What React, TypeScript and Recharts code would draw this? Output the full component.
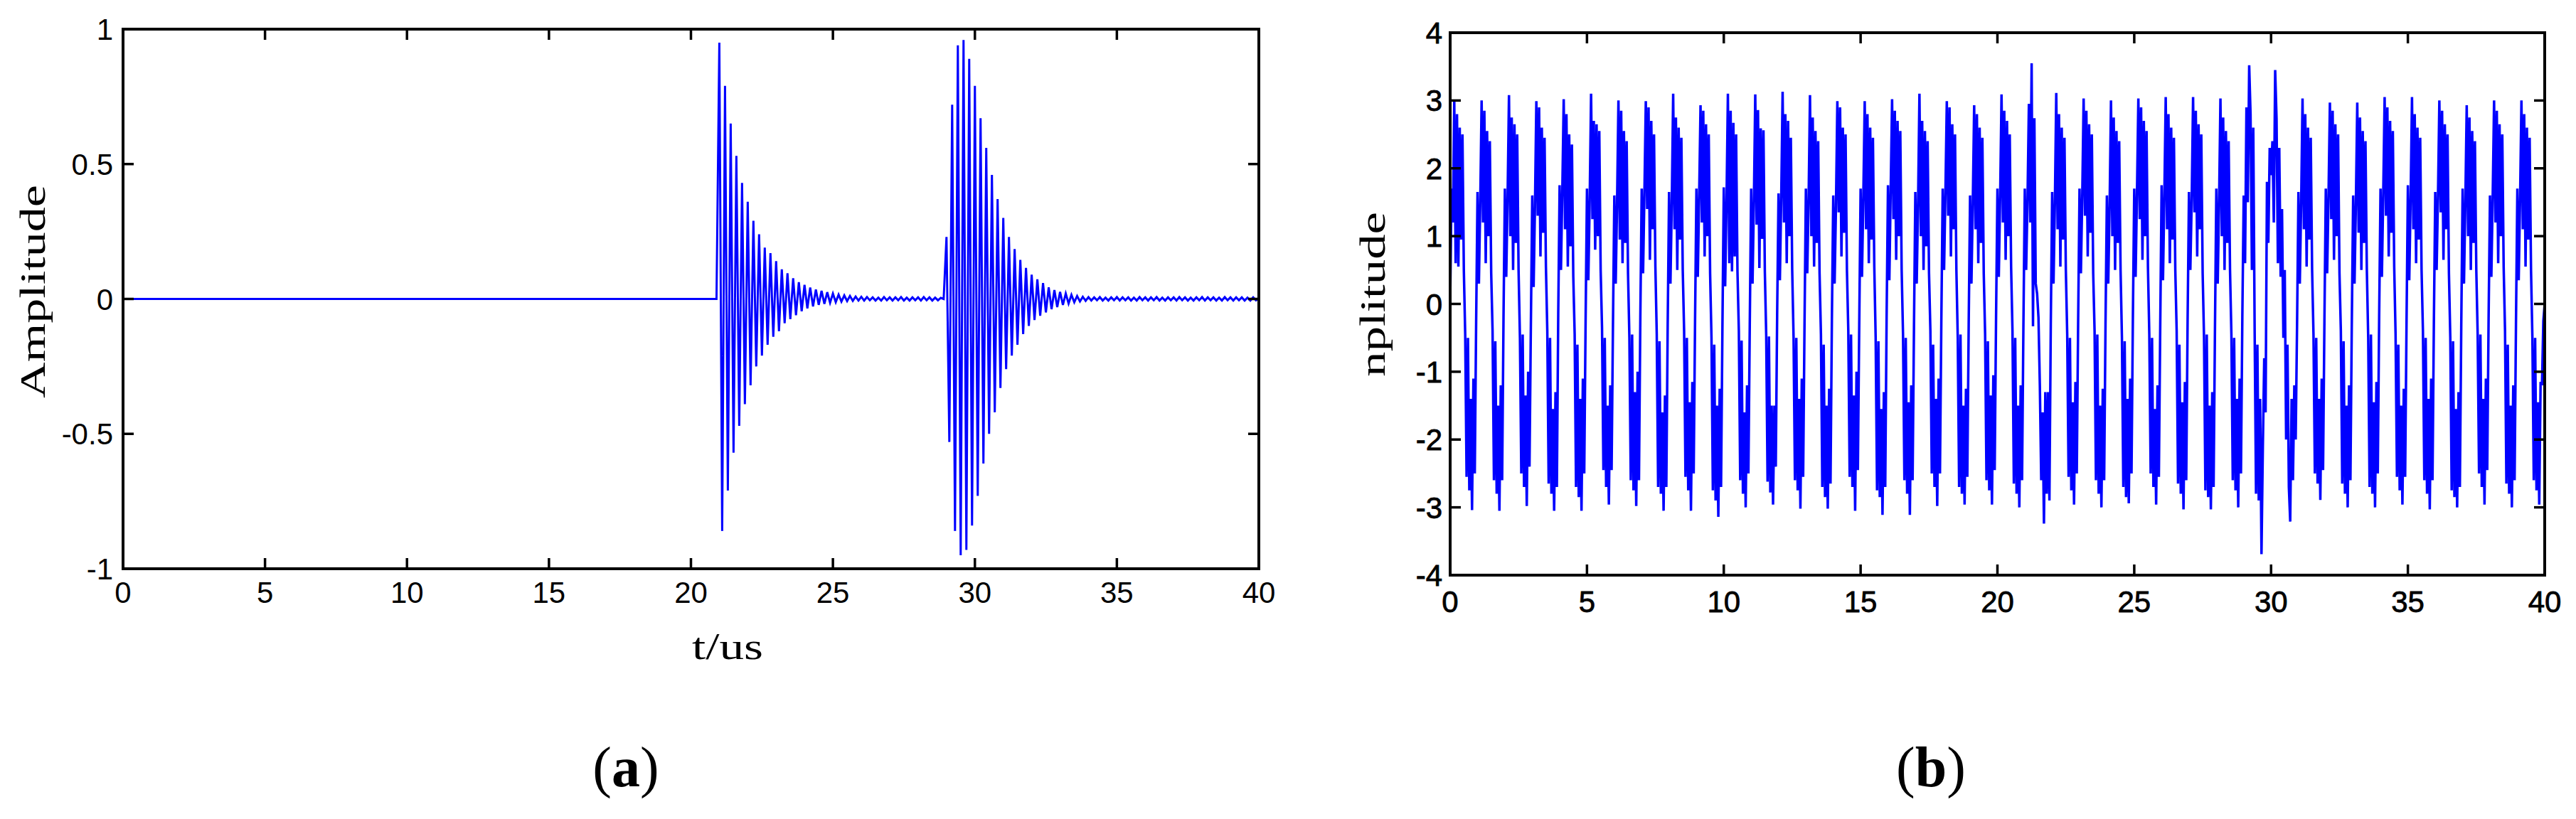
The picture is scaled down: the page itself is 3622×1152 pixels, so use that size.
import React from 'react';
import { LineChart, Line, XAxis, YAxis } from 'recharts';

// shared axes
const timeTicks = [0, 5, 10, 15, 20, 25, 30, 35, 40];
const ampTicksA = [-1, -0.5, 0, 0.5, 1];
const ampTicksB = [-4, -3, -2, -1, 0, 1, 2, 3, 4];
const stepA = 0.1; // us between samples, panel (a)
const stepB = 0.05; // us between samples, panel (b)

// (a) received signal: silence, first echo, ripple, second echo, ripple
const quietA = [
  { t: 0, v: 0 },
  { t: 20.9, v: 0 },
];

const echo1Start = 21.0;
const echo1 = [
  0.95, -0.86, 0.79, -0.71, 0.65, -0.57, 0.53, -0.47, 0.43, -0.39,
  0.36, -0.32, 0.29, -0.25, 0.24, -0.21, 0.19, -0.17, 0.17, -0.14,
  0.14, -0.12, 0.11, -0.09, 0.095, -0.075, 0.077, -0.06, 0.062, -0.046,
  0.052, -0.035, 0.042, -0.028, 0.035, -0.022, 0.03, -0.018, 0.025, -0.014,
  0.02, -0.012, 0.016, -0.01, 0.013, -0.008, 0.011, -0.007, 0.009, -0.006,
  0.008,
];

const ripple1Start = 26.1;
const ripple1 = [
  -0.006, 0.007, -0.005, 0.006, -0.006, 0.005, -0.006, 0.007, -0.005, 0.006,
  -0.006, 0.006, -0.005, 0.007, -0.006, 0.005, -0.006, 0.006, -0.005, 0.006,
  -0.006, 0.007, -0.005, 0.006, -0.006, 0.005, -0.005, 0.004,
];

const echo2Start = 28.9;
const echo2 = [
  0.0, 0.23, -0.53, 0.72, -0.86, 0.94, -0.95, 0.96, -0.93, 0.89,
  -0.84, 0.79, -0.73, 0.67, -0.61, 0.56, -0.5, 0.46, -0.42, 0.37,
  -0.33, 0.3, -0.26, 0.23, -0.21, 0.185, -0.17, 0.145, -0.13, 0.115,
  -0.1, 0.09, -0.078, 0.073, -0.062, 0.059, -0.05, 0.043, -0.038, 0.033,
  -0.03, 0.026, -0.022, 0.02, -0.017, 0.015, -0.012, 0.011, -0.009, 0.008,
  -0.007, 0.007,
];

const ripple2Start = 34.1;
const ripple2 = [
  -0.006, 0.006, -0.005, 0.007, -0.006, 0.005, -0.006, 0.006, -0.005, 0.007,
  -0.006, 0.006, -0.005, 0.006, -0.006, 0.005, -0.006, 0.007, -0.005, 0.006,
  -0.006, 0.006, -0.005, 0.007, -0.006, 0.005, -0.006, 0.006, -0.005, 0.006,
  -0.006, 0.007, -0.005, 0.006, -0.006, 0.005, -0.006, 0.006, -0.005, 0.007,
  -0.006, 0.006, -0.005, 0.006, -0.006, 0.005, -0.006, 0.007, -0.005, 0.006,
  -0.006, 0.006, -0.005, 0.006, -0.006, 0.005, -0.006, 0.006, -0.005, 0.004,
];

// (b) one row per 1 us cycle, 20 samples each
const cyclesB = [
  [0.0, 1.7, 1.2, 3.0, 0.6, 2.8, 0.55, 2.6, 0.95, 2.5, 0.5, -0.45, -2.55, -0.5, -2.75, -1.4, -3.04, -1.1, -2.5, -0.25],
  [1.65, 0.3, 1.5, 3.0, 1.2, 2.85, 0.6, 2.55, 1.0, 2.4, 0.45, -0.4, -2.6, -0.55, -2.8, -1.5, -3.05, -1.2, -2.6, -0.2],
  [1.7, 0.4, 1.6, 3.08, 1.0, 2.75, 0.5, 2.65, 0.9, 2.5, 0.5, -0.5, -2.5, -0.45, -2.7, -1.35, -2.98, -1.0, -2.4, -0.3],
  [1.6, 0.25, 1.45, 2.99, 1.3, 2.9, 0.7, 2.6, 1.05, 2.45, 0.55, -0.4, -2.65, -0.5, -2.8, -1.55, -3.05, -1.3, -2.7, -0.15],
  [1.75, 0.5, 1.7, 3.02, 1.1, 2.8, 0.55, 2.5, 0.85, 2.35, 0.4, -0.45, -2.7, -0.6, -2.85, -1.4, -3.05, -1.1, -2.5, -0.25],
  [1.7, 0.35, 1.55, 3.1, 1.25, 2.7, 0.8, 2.65, 1.0, 2.55, 0.5, -0.35, -2.45, -0.5, -2.7, -1.5, -2.96, -1.2, -2.45, -0.3],
  [1.6, 0.3, 1.5, 3.0, 0.95, 2.85, 0.6, 2.55, 0.9, 2.4, 0.45, -0.5, -2.6, -0.45, -2.75, -1.3, -2.98, -1.0, -2.6, -0.2],
  [1.7, 0.45, 1.65, 2.99, 1.4, 2.9, 0.65, 2.7, 1.1, 2.5, 0.55, -0.45, -2.7, -0.55, -2.8, -1.6, -3.05, -1.35, -2.7, -0.3],
  [1.65, 0.3, 1.5, 3.1, 1.1, 2.75, 0.5, 2.6, 0.95, 2.45, 0.5, -0.4, -2.55, -0.5, -2.75, -1.45, -3.05, -1.15, -2.5, -0.25],
  [1.7, 0.4, 1.6, 2.93, 1.2, 2.85, 0.7, 2.65, 1.0, 2.5, 0.45, -0.5, -2.75, -0.6, -2.9, -1.5, -3.14, -1.25, -2.7, -0.35],
  [1.72, 0.26, 1.52, 3.1, 0.6, 2.85, 0.48, 2.67, 0.7, 2.5, 0.48, -0.4, -2.6, -0.54, -2.8, -1.6, -3.0, -1.2, -2.5, -0.27],
  [1.7, 0.3, 1.52, 3.09, 1.17, 2.86, 0.53, 2.59, 0.96, 2.56, 0.48, -0.46, -2.62, -0.48, -2.78, -1.5, -2.96, -1.5, -2.4, -0.16],
  [1.63, 0.35, 1.6, 3.13, 1.2, 2.8, 0.6, 2.7, 1.0, 2.45, 0.5, -0.5, -2.6, -0.5, -2.75, -1.4, -3.02, -1.1, -2.55, -0.3],
  [1.7, 0.45, 1.55, 3.08, 1.0, 2.75, 0.55, 2.55, 0.9, 2.4, 0.45, -0.45, -2.7, -0.6, -2.85, -1.5, -3.02, -1.25, -2.65, -0.25],
  [1.6, 0.3, 1.45, 2.99, 1.35, 2.9, 0.7, 2.6, 1.05, 2.5, 0.5, -0.4, -2.55, -0.45, -2.7, -1.35, -3.05, -1.0, -2.45, -0.3],
  [1.7, 0.4, 1.6, 2.99, 1.1, 2.8, 0.6, 2.6, 0.95, 2.45, 0.55, -0.5, -2.75, -0.55, -2.85, -1.55, -3.11, -1.3, -2.7, -0.2],
  [1.75, 0.35, 1.7, 3.02, 1.25, 2.85, 0.65, 2.7, 1.0, 2.55, 0.5, -0.45, -2.6, -0.5, -2.8, -1.45, -3.11, -1.2, -2.6, -0.35],
  [1.65, 0.3, 1.5, 3.1, 1.0, 2.7, 0.5, 2.55, 0.85, 2.4, 0.45, -0.4, -2.5, -0.6, -2.7, -1.4, -2.98, -1.1, -2.5, -0.25],
  [1.7, 0.5, 1.65, 2.99, 1.3, 2.9, 0.7, 2.65, 1.1, 2.5, 0.5, -0.5, -2.7, -0.45, -2.8, -1.5, -2.96, -1.25, -2.55, -0.3],
  [1.6, 0.3, 1.5, 2.93, 1.1, 2.8, 0.6, 2.6, 0.9, 2.45, 0.45, -0.45, -2.6, -0.55, -2.75, -1.35, -2.96, -1.05, -2.45, -0.2],
  [1.7, 0.4, 1.6, 3.09, 1.2, 2.85, 0.65, 2.7, 1.0, 2.5, 0.55, -0.4, -2.65, -0.5, -2.8, -1.5, -3.0, -1.2, -2.6, -0.3],
  [1.7, 0.5, 1.55, 2.95, 1.2, 3.55, -0.33, 2.74, 0.3, 0.15, -0.2, -1.2, -2.6, -1.6, -3.24, -1.3, -2.8, -1.3, -2.9, -0.3],
  [1.65, 0.3, 1.5, 3.11, 1.1, 2.8, 0.55, 2.6, 0.95, 2.45, 0.5, -0.45, -2.55, -0.5, -2.75, -1.45, -2.96, -1.15, -2.5, -0.25],
  [1.7, 0.45, 1.6, 3.03, 1.3, 2.85, 0.7, 2.65, 1.05, 2.5, 0.45, -0.4, -2.6, -0.45, -2.8, -1.5, -3.0, -1.25, -2.6, -0.3],
  [1.6, 0.3, 1.45, 3.0, 1.0, 2.75, 0.5, 2.55, 0.9, 2.4, 0.5, -0.5, -2.7, -0.55, -2.85, -1.4, -2.94, -1.1, -2.5, -0.2],
  [1.7, 0.4, 1.65, 3.03, 1.25, 2.9, 0.65, 2.7, 1.0, 2.55, 0.55, -0.45, -2.5, -0.5, -2.7, -1.55, -2.96, -1.2, -2.55, -0.3],
  [1.75, 0.35, 1.6, 3.05, 1.1, 2.8, 0.6, 2.6, 0.95, 2.45, 0.5, -0.4, -2.65, -0.6, -2.8, -1.45, -3.03, -1.15, -2.6, -0.25],
  [1.65, 0.5, 1.55, 3.05, 1.35, 2.85, 0.7, 2.65, 1.1, 2.5, 0.45, -0.5, -2.75, -0.45, -2.85, -1.5, -3.03, -1.3, -2.7, -0.35],
  [1.7, 0.3, 1.5, 3.03, 1.0, 2.75, 0.5, 2.55, 0.9, 2.4, 0.5, -0.45, -2.6, -0.5, -2.75, -1.4, -3.0, -1.1, -2.5, -0.2],
  [1.6, 0.6, 2.9, 1.5, 3.52, 2.8, 0.5, 2.6, -0.4, -2.8, -0.6, -2.9, -1.4, -3.69, -2.1, -0.8, -1.6, 1.8, 0.9, 2.3],
  [1.9, 2.4, 1.2, 3.45, 2.73, 0.6, 2.3, 0.4, 1.4, -0.5, 0.5, -2.0, -0.6, -2.7, -3.21, -1.4, -2.6, -1.2, -2.0, -0.3],
  [1.65, 0.3, 1.5, 3.03, 1.1, 2.8, 0.55, 2.6, 0.95, 2.45, 0.5, -0.45, -2.5, -0.5, -2.65, -1.4, -2.89, -1.1, -2.45, -0.25],
  [1.7, 0.45, 1.6, 2.97, 1.25, 2.85, 0.65, 2.65, 1.0, 2.5, 0.45, -0.4, -2.65, -0.55, -2.8, -1.5, -3.0, -1.2, -2.6, -0.3],
  [1.6, 0.3, 1.5, 2.97, 1.05, 2.75, 0.5, 2.55, 0.9, 2.4, 0.5, -0.5, -2.7, -0.45, -2.8, -1.45, -3.0, -1.15, -2.5, -0.2],
  [1.7, 0.4, 1.65, 3.05, 1.3, 2.9, 0.7, 2.7, 1.05, 2.55, 0.55, -0.45, -2.55, -0.6, -2.75, -1.5, -2.96, -1.25, -2.55, -0.3],
  [1.75, 0.35, 1.55, 3.05, 1.1, 2.8, 0.6, 2.6, 0.95, 2.45, 0.5, -0.4, -2.6, -0.5, -2.8, -1.4, -3.03, -1.1, -2.6, -0.25],
  [1.65, 0.5, 1.6, 3.0, 1.35, 2.85, 0.65, 2.65, 1.1, 2.5, 0.45, -0.5, -2.75, -0.55, -2.85, -1.55, -3.0, -1.3, -2.7, -0.35],
  [1.7, 0.3, 1.5, 2.93, 1.0, 2.75, 0.5, 2.55, 0.9, 2.4, 0.5, -0.45, -2.5, -0.45, -2.7, -1.4, -2.96, -1.1, -2.45, -0.2],
  [1.6, 0.4, 1.6, 3.0, 1.2, 2.85, 0.6, 2.65, 1.0, 2.5, 0.55, -0.4, -2.65, -0.6, -2.8, -1.5, -3.0, -1.2, -2.6, -0.3],
  [1.7, 0.35, 1.55, 3.0, 1.1, 2.8, 0.55, 2.6, 0.95, 2.45, 0.5, -0.5, -2.6, -0.5, -2.75, -1.45, -2.96, -1.15, -1.2, -0.25],
];
const endB = { t: 40, v: 0 };

const segment = (start: number, step: number, values: number[]) =>
  values.map((v, i) => ({ t: +(start + i * step).toFixed(2), v }));

const dataA = [
  ...quietA,
  ...segment(echo1Start, stepA, echo1),
  ...segment(ripple1Start, stepA, ripple1),
  ...segment(echo2Start, stepA, echo2),
  ...segment(ripple2Start, stepA, ripple2),
];

const dataB = [...cyclesB.flatMap((c, n) => segment(n, stepB, c)), endB];

const BLUE = '#0000ff';
const TICK_LEN = 15;
const axisLine = { stroke: '#000', strokeWidth: 4, strokeLinecap: 'square' as const };
const sans = 'Arial, "Liberation Sans", sans-serif';
const serif = '"Times New Roman", "Liberation Serif", serif';

// plot rectangles of the two panels (page pixels)
const boxA = { left: 173, right: 1770, top: 41, bottom: 800, yMin: -1, yMax: 1 };
const boxB = { left: 2039, right: 3578, top: 46, bottom: 809, yMin: -4, yMax: 4 };

function BottomTick(props: any) {
  const { x, y, payload, gap, heavy } = props;
  return (
    <g>
      <line x1={x} y1={y} x2={x} y2={y - TICK_LEN} stroke="#000" strokeWidth={3.5} />
      <text
        x={x}
        y={y + gap}
        textAnchor="middle"
        fontFamily={sans}
        fontSize={42}
        fill="#000"
        stroke={heavy ? '#000' : 'none'}
        strokeWidth={heavy ? 0.8 : 0}
      >
        {payload.value}
      </text>
    </g>
  );
}

function LeftTick(props: any) {
  const { x, y, payload, gap, heavy } = props;
  return (
    <g>
      <line x1={x} y1={y} x2={x + TICK_LEN} y2={y} stroke="#000" strokeWidth={3.5} />
      <text
        x={x - gap}
        y={y + 15}
        textAnchor="end"
        fontFamily={sans}
        fontSize={42}
        fill="#000"
        stroke={heavy ? '#000' : 'none'}
        strokeWidth={heavy ? 0.8 : 0}
      >
        {payload.value}
      </text>
    </g>
  );
}

interface Box {
  left: number;
  right: number;
  top: number;
  bottom: number;
  yMin: number;
  yMax: number;
}

interface PanelProps {
  data: { t: number; v: number }[];
  box: Box;
  chartLeft: number;
  chartWidth: number;
  yTicks: number[];
  strokeWidth: number;
  xGap: number;
  yGap: number;
  heavy?: boolean;
}

function Panel({ data, box, chartLeft, chartWidth, yTicks, strokeWidth, xGap, yGap, heavy = false }: PanelProps) {
  const height = 1000;
  return (
    <div style={{ position: 'absolute', left: chartLeft, top: 0 }}>
      <LineChart
        width={chartWidth}
        height={height}
        data={data}
        margin={{ top: box.top, right: chartLeft + chartWidth - box.right, bottom: 0, left: 0 }}
      >
        <XAxis
          type="number"
          dataKey="t"
          domain={[0, 40]}
          ticks={timeTicks}
          interval={0}
          allowDataOverflow
          height={height - box.bottom}
          tickSize={0}
          tickMargin={0}
          tickLine={false}
          axisLine={axisLine}
          tick={(p: any) => <BottomTick {...p} gap={xGap} heavy={heavy} />}
        />
        <YAxis
          type="number"
          domain={[box.yMin, box.yMax]}
          ticks={yTicks}
          interval={0}
          allowDataOverflow
          width={box.left - chartLeft}
          tickSize={0}
          tickMargin={0}
          tickLine={false}
          axisLine={axisLine}
          tick={(p: any) => <LeftTick {...p} gap={yGap} heavy={heavy} />}
        />
        <Line
          dataKey="v"
          stroke={BLUE}
          strokeWidth={strokeWidth}
          dot={false}
          activeDot={false}
          isAnimationActive={false}
        />
      </LineChart>
    </div>
  );
}

// top and right edges of the box with their inward ticks
function BoxEdges({ box, yTicks }: { box: Box; yTicks: number[] }) {
  const px = (t: number) => box.left + (t / 40) * (box.right - box.left);
  const py = (v: number) => box.top + ((box.yMax - v) / (box.yMax - box.yMin)) * (box.bottom - box.top);
  return (
    <g stroke="#000">
      <line x1={box.left} y1={box.top} x2={box.right} y2={box.top} strokeWidth={4} strokeLinecap="square" />
      <line x1={box.right} y1={box.top} x2={box.right} y2={box.bottom} strokeWidth={4} strokeLinecap="square" />
      {timeTicks
        .filter((t) => t > 0 && t < 40)
        .map((t) => (
          <line key={'t' + t} x1={px(t)} y1={box.top} x2={px(t)} y2={box.top + TICK_LEN} strokeWidth={3.5} />
        ))}
      {yTicks
        .filter((v) => v > box.yMin && v < box.yMax)
        .map((v) => (
          <line key={'r' + v} x1={box.right} y1={py(v)} x2={box.right - TICK_LEN} y2={py(v)} strokeWidth={3.5} />
        ))}
    </g>
  );
}

export default function App() {
  return (
    <div style={{ position: 'absolute', left: 0, top: 0, width: 3622, height: 1152, background: '#fff' }}>
      <Panel
        data={dataA}
        box={boxA}
        chartLeft={0}
        chartWidth={1900}
        yTicks={ampTicksA}
        strokeWidth={3}
        xGap={48}
        yGap={14}
      />
      <Panel
        data={dataB}
        box={boxB}
        chartLeft={1850}
        chartWidth={1772}
        yTicks={ampTicksB}
        strokeWidth={3.5}
        xGap={52}
        yGap={11}
        heavy
      />
      <svg
        width={3622}
        height={1152}
        style={{ position: 'absolute', left: 0, top: 0, pointerEvents: 'none' }}
      >
        <BoxEdges box={boxA} yTicks={ampTicksA} />
        <BoxEdges box={boxB} yTicks={ampTicksB} />
        <text
          x={63}
          y={410}
          transform="rotate(-90 63 410)"
          textAnchor="middle"
          fontFamily={serif}
          fontSize={51}
          textLength={300}
          lengthAdjust="spacingAndGlyphs"
          fill="#000"
        >
          Amplitude
        </text>
        <text
          x={1947}
          y={414}
          transform="rotate(-90 1947 414)"
          textAnchor="middle"
          fontFamily={serif}
          fontSize={51}
          textLength={232}
          lengthAdjust="spacingAndGlyphs"
          fill="#000"
        >
          nplitude
        </text>
        <text
          x={1023}
          y={927}
          textAnchor="middle"
          fontFamily={serif}
          fontSize={52}
          textLength={100}
          lengthAdjust="spacingAndGlyphs"
          fill="#000"
        >
          t/us
        </text>
        <text x={880} y={1106} textAnchor="middle" fontFamily={serif} fontSize={80} fill="#000">
          (<tspan fontWeight="bold">a</tspan>)
        </text>
        <text x={2715} y={1106} textAnchor="middle" fontFamily={serif} fontSize={80} fill="#000">
          (<tspan fontWeight="bold">b</tspan>)
        </text>
      </svg>
    </div>
  );
}
